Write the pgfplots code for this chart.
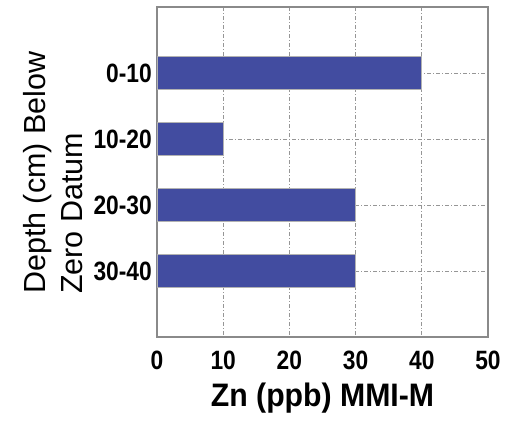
\documentclass[border=0pt]{standalone}
\usepackage{fontspec}
\setmainfont{Liberation Sans}
\newfontfamily\tickfont{Liberation Sans}[FakeStretch=0.86]
\newfontfamily\xlabfont{Liberation Sans}[FakeStretch=0.93]
\usepackage{pgfplots}
\pgfplotsset{compat=1.18}
\definecolor{barblue}{RGB}{66,76,160}
\definecolor{axgray}{RGB}{138,138,138}
\definecolor{gridgray}{RGB}{150,150,150}
\begin{document}
\begin{tikzpicture}
\path[use as bounding box] (-157bp,-86bp) rectangle (348bp,337bp);
\begin{axis}[
  at={(0,0)}, anchor=south west,
  width=331bp, height=330bp, scale only axis,
  xbar, bar width=0.5,
  xmin=0, xmax=50, ymin=0, ymax=5, y dir=reverse,
  xtick={0,10,20,30,40,50},
  ytick={1,2,3,4},
  yticklabels={0-10,10-20,20-30,30-40},
  major tick length=0pt,
  /pgf/number format/assume math mode=true,
  axis line style={draw=axgray, line width=1.6bp},
  grid=major,
  major grid style={draw=gridgray, line width=0.8bp, dash pattern=on 4bp off 2bp on 1bp off 2bp},
  ticklabel style={font=\tickfont\bfseries\fontsize{26.5bp}{30bp}\selectfont},
  xticklabel style={anchor=base, yshift=-32bp, inner sep=0pt},
  yticklabel style={anchor=east, inner sep=0pt, xshift=-5bp},
  xlabel={Zn (ppb) MMI-M},
  xlabel style={at={(axis description cs:0.5,-0.212)}, anchor=base, inner sep=0pt,
    font=\xlabfont\bfseries\fontsize{32.5bp}{36bp}\selectfont},
  ylabel={Depth (cm) Below\\Zero Datum},
  ylabel style={at={(axis description cs:-0.405,0.13)}, anchor=north west, rotate=0,
    align=left, inner sep=0pt, font=\fontsize{30.5bp}{37bp}\selectfont},
]
\addplot[fill=barblue, draw=gray!60, line width=0.6bp] coordinates {(40,1) (10,2) (30,3) (30,4)};
\end{axis}
\end{tikzpicture}
\end{document}
